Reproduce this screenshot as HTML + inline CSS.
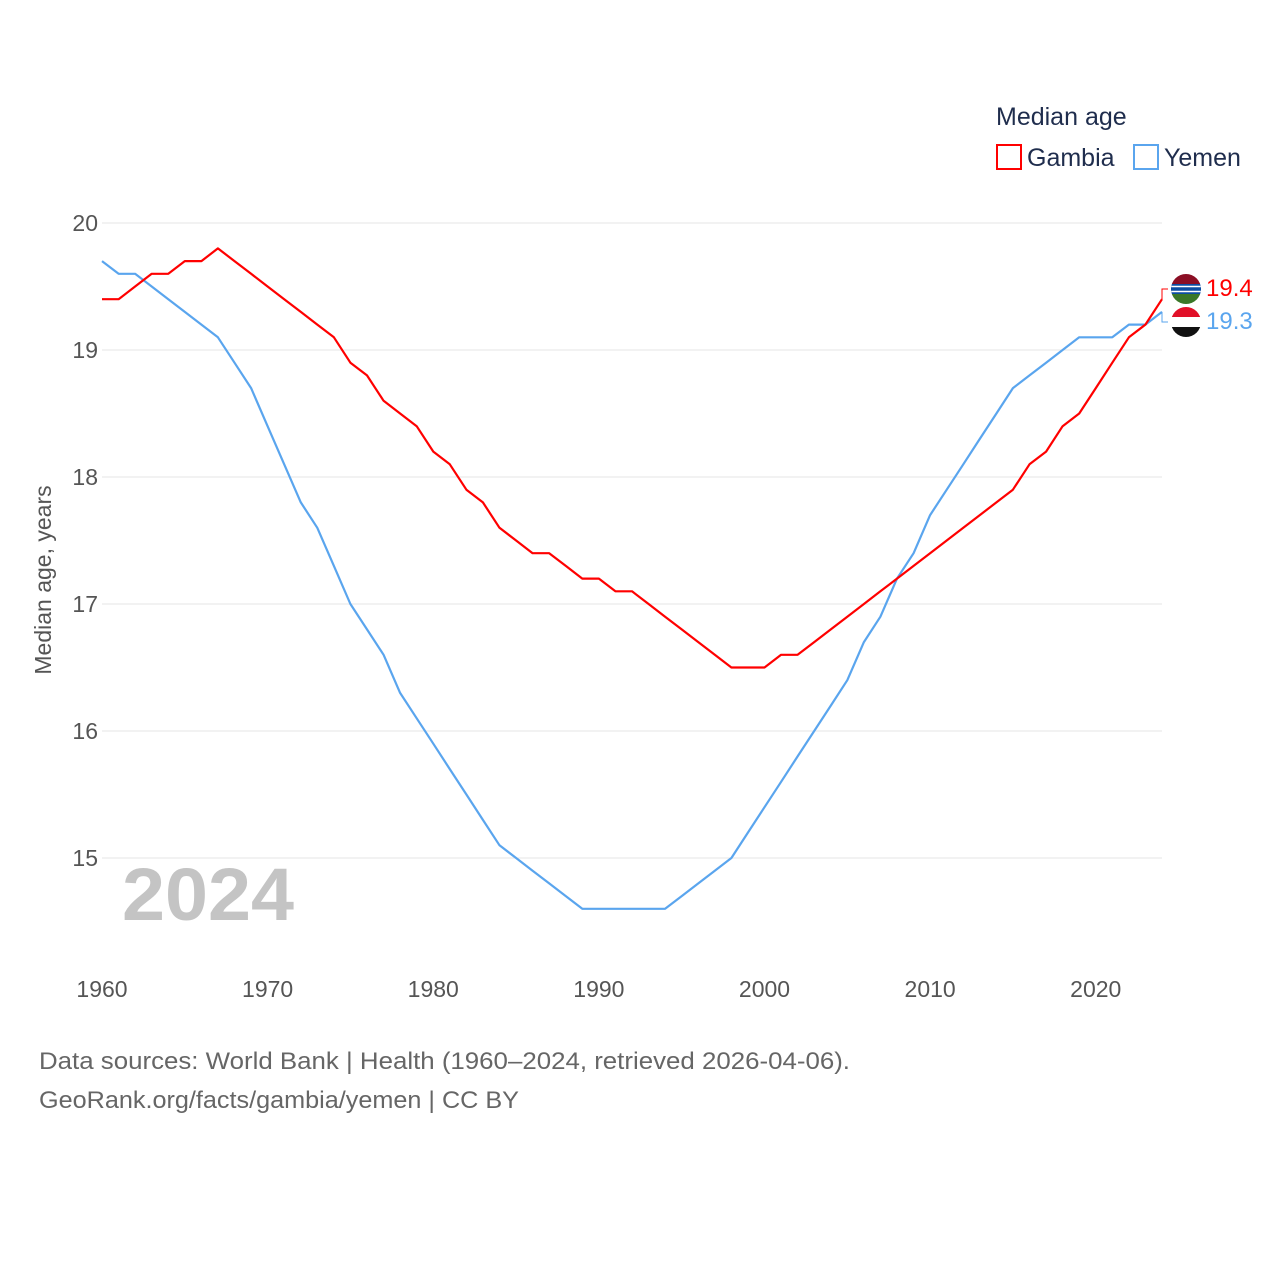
<!DOCTYPE html>
<html><head><meta charset="utf-8"><style>
body{margin:0;background:#fff;font-family:"Liberation Sans",sans-serif;}
svg text{font-family:"Liberation Sans",sans-serif;}
</style></head><body>
<svg id="chart" width="1280" height="1280">
<g id="grid"></g><g id="lines"></g>
<text x="996" y="125" font-size="25" fill="#1f2d4d">Median age</text>
<rect x="997" y="145" width="24" height="24" fill="none" stroke="#f00" stroke-width="2"/>
<text x="1027" y="166" font-size="25" fill="#1f2d4d">Gambia</text>
<rect x="1134" y="145" width="24" height="24" fill="none" stroke="#5aa5ee" stroke-width="2"/>
<text x="1164" y="166" font-size="25" fill="#1f2d4d">Yemen</text>
<text transform="translate(51,580) rotate(-90)" text-anchor="middle" font-size="23" fill="#555">Median age, years</text>
<text x="122" y="920" font-size="74" font-weight="bold" fill="#c4c4c4" textLength="172" lengthAdjust="spacingAndGlyphs">2024</text>
<text x="39" y="1069" font-size="24" fill="#666" textLength="811" lengthAdjust="spacingAndGlyphs">Data sources: World Bank | Health (1960–2024, retrieved 2026-04-06).</text>
<text x="39" y="1108" font-size="24" fill="#666" textLength="480" lengthAdjust="spacingAndGlyphs">GeoRank.org/facts/gambia/yemen | CC BY</text>
<g>
<clipPath id="c1"><circle cx="1186" cy="289" r="15"/></clipPath>
<g clip-path="url(#c1)"><rect x="1170" y="273" width="32" height="11" fill="#8b0e24"/><rect x="1170" y="284" width="32" height="10" fill="#0c4da2"/><rect x="1170" y="286.5" width="32" height="5" fill="#0c4da2" stroke="#fff" stroke-width="1.5"/><rect x="1170" y="294" width="32" height="11" fill="#3a7728"/></g></g>
<g>
<clipPath id="c2"><circle cx="1186" cy="322" r="15"/></clipPath>
<g clip-path="url(#c2)"><rect x="1170" y="306" width="32" height="11" fill="#e11028"/><rect x="1170" y="317" width="32" height="10" fill="#fff"/><rect x="1170" y="327" width="32" height="11" fill="#111"/></g></g>
<text x="1206" y="296" font-size="24" fill="#f00">19.4</text>
<text x="1206" y="329" font-size="24" fill="#5aa5ee">19.3</text>
</svg>
<script>
const years=[];for(let y=1960;y<=2024;y++)years.push(y);
const gambia=[19.4,19.4,19.5,19.6,19.6,19.7,19.7,19.8,19.7,19.6,19.5,19.4,19.3,19.2,19.1,18.9,18.8,18.6,18.5,18.4,18.2,18.1,17.9,17.8,17.6,17.5,17.4,17.4,17.3,17.2,17.2,17.1,17.1,17.0,16.9,16.8,16.7,16.6,16.5,16.5,16.5,16.6,16.6,16.7,16.8,16.9,17.0,17.1,17.2,17.3,17.4,17.5,17.6,17.7,17.8,17.9,18.1,18.2,18.4,18.5,18.7,18.9,19.1,19.2,19.4];
const yemen=[19.7,19.6,19.6,19.5,19.4,19.3,19.2,19.1,18.9,18.7,18.4,18.1,17.8,17.6,17.3,17.0,16.8,16.6,16.3,16.1,15.9,15.7,15.5,15.3,15.1,15.0,14.9,14.8,14.7,14.6,14.6,14.6,14.6,14.6,14.6,14.7,14.8,14.9,15.0,15.2,15.4,15.6,15.8,16.0,16.2,16.4,16.7,16.9,17.2,17.4,17.7,17.9,18.1,18.3,18.5,18.7,18.8,18.9,19.0,19.1,19.1,19.1,19.2,19.2,19.3];
const yTicks=[15,16,17,18,19,20];
const xTicks=[1960,1970,1980,1990,2000,2010,2020];
const X=y=>102+(y-1960)*1060/64;
const Y=v=>858-(v-15)*127;
const NS="http://www.w3.org/2000/svg";
const grid=document.getElementById('grid'),lines=document.getElementById('lines');
function mk(tag,a,p){const e=document.createElementNS(NS,tag);for(const k in a)e.setAttribute(k,a[k]);p.appendChild(e);return e;}
yTicks.forEach(t=>{
 const l=mk('line',{x1:102,x2:1162,y1:Y(t),y2:Y(t),stroke:'#e6e6e6','stroke-width':1},grid);
 
 
 const tx=mk('text',{x:98,y:Y(t)+8,'text-anchor':'end','font-size':23,fill:'#555'},grid);tx.textContent=t;
 
 
});
xTicks.forEach(t=>{
 const tx=mk('text',{x:X(t),y:997,'text-anchor':'middle','font-size':23,fill:'#555'},grid);tx.textContent=t;
 
 
});
function draw(d,c,n){
 const p=mk('path',{d:d.map((v,i)=>(i?'L':'M')+X(years[i]).toFixed(1)+','+Y(v).toFixed(1)).join(''),fill:'none',stroke:c,'stroke-width':2.2,'stroke-linejoin':'round'},lines);
 
 
}
draw(yemen,'#5aa5ee','yemen-line');
draw(gambia,'#f00','gambia-line');
const gc=mk('path',{d:`M${X(2024)},${Y(gambia[64])}V289H1168`,fill:'none',stroke:'#f00','stroke-width':1},lines);


const yc=mk('path',{d:`M${X(2024)},${Y(yemen[64])}V322H1168`,fill:'none',stroke:'#5aa5ee','stroke-width':1},lines);


</script>
</body></html>
